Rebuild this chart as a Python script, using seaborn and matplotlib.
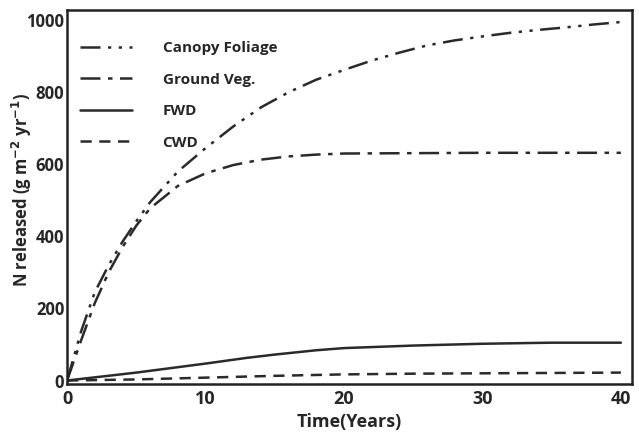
import numpy as np
import pandas as pd
import seaborn as sns
import matplotlib.pyplot as plt

sns.set_style('white')
plt.rcParams['font.family'] = ['Open Sans', 'DejaVu Sans']
plt.rcParams['mathtext.default'] = 'bf'

# values (g m-2 yr-1)
canopy_years = [0, 1, 2, 3, 4, 5, 6, 8, 10, 12, 14, 16, 18, 20, 22, 24, 26, 28, 30, 32, 34, 36, 38, 40]
canopy_vals = [0, 135, 245, 320, 385, 442, 495, 580, 645, 705, 758, 800, 835, 862, 888, 910, 930, 944, 955, 965, 973, 980, 988, 995]

ground_years = [0, 1, 2, 3, 4, 5, 6, 8, 10, 12, 14, 16, 18, 20, 25, 30, 35, 40]
ground_vals = [0, 110, 215, 300, 370, 430, 478, 540, 575, 598, 613, 622, 627, 630, 631, 632, 632, 632]

fwd_years = [0, 5, 10, 13, 15, 18, 20, 25, 30, 35, 40]
fwd_vals = [0, 22, 47, 63, 72, 84, 90, 97, 102, 105, 105]

cwd_years = [0, 5, 10, 15, 20, 25, 30, 35, 40]
cwd_vals = [0, 3, 8, 13, 17, 19, 20, 21, 22]

series = [
    ('Canopy Foliage', canopy_years, canopy_vals, (0, (8, 3, 1.3, 3, 1.3, 3))),
    ('Ground Veg.', ground_years, ground_vals, (0, (8, 3, 1.8, 3))),
    ('FWD', fwd_years, fwd_vals, '-'),
    ('CWD', cwd_years, cwd_vals, (0, (4.5, 3))),
]

fig = plt.figure(figsize=(6.39, 4.4), dpi=100)
ax = fig.add_axes([0.105, 0.127, 0.884, 0.85])

for name, xs, ys, ls in series:
    df = pd.DataFrame({'Time': xs, 'N': ys})
    sns.lineplot(data=df, x='Time', y='N', ax=ax, color='#2a2a2a', linewidth=1.8,
                 linestyle=ls, label=name)

ax.set_xlim(0, 40.8)
ax.set_ylim(-10, 1028)
ax.set_xticks([0, 10, 20, 30, 40])
ax.set_yticks([0, 200, 400, 600, 800, 1000])
ax.tick_params(axis='x', length=0, labelsize=13, pad=4)
ax.tick_params(axis='y', length=0, labelsize=12, pad=2)
for lab in ax.get_xticklabels() + ax.get_yticklabels():
    lab.set_fontweight('bold')

ax.set_xlabel('Time(Years)', fontsize=13, fontweight='bold', labelpad=4)
ax.set_ylabel(r'N released (g m$^{-2}$ yr$^{-1}$)', fontsize=12, fontweight='bold')
ax.yaxis.set_label_coords(-0.058, 0.52)

for sp in ax.spines.values():
    sp.set_visible(True)
    sp.set_color('#222222')
    sp.set_linewidth(1.8)

leg = ax.legend(loc='upper left', bbox_to_anchor=(0.0, 0.952), frameon=False,
                handlelength=3.4, handletextpad=2.0, labelspacing=1.15,
                borderaxespad=0.45, prop={'weight': 'bold', 'size': 11})

fig.savefig('out.png', dpi=100)
